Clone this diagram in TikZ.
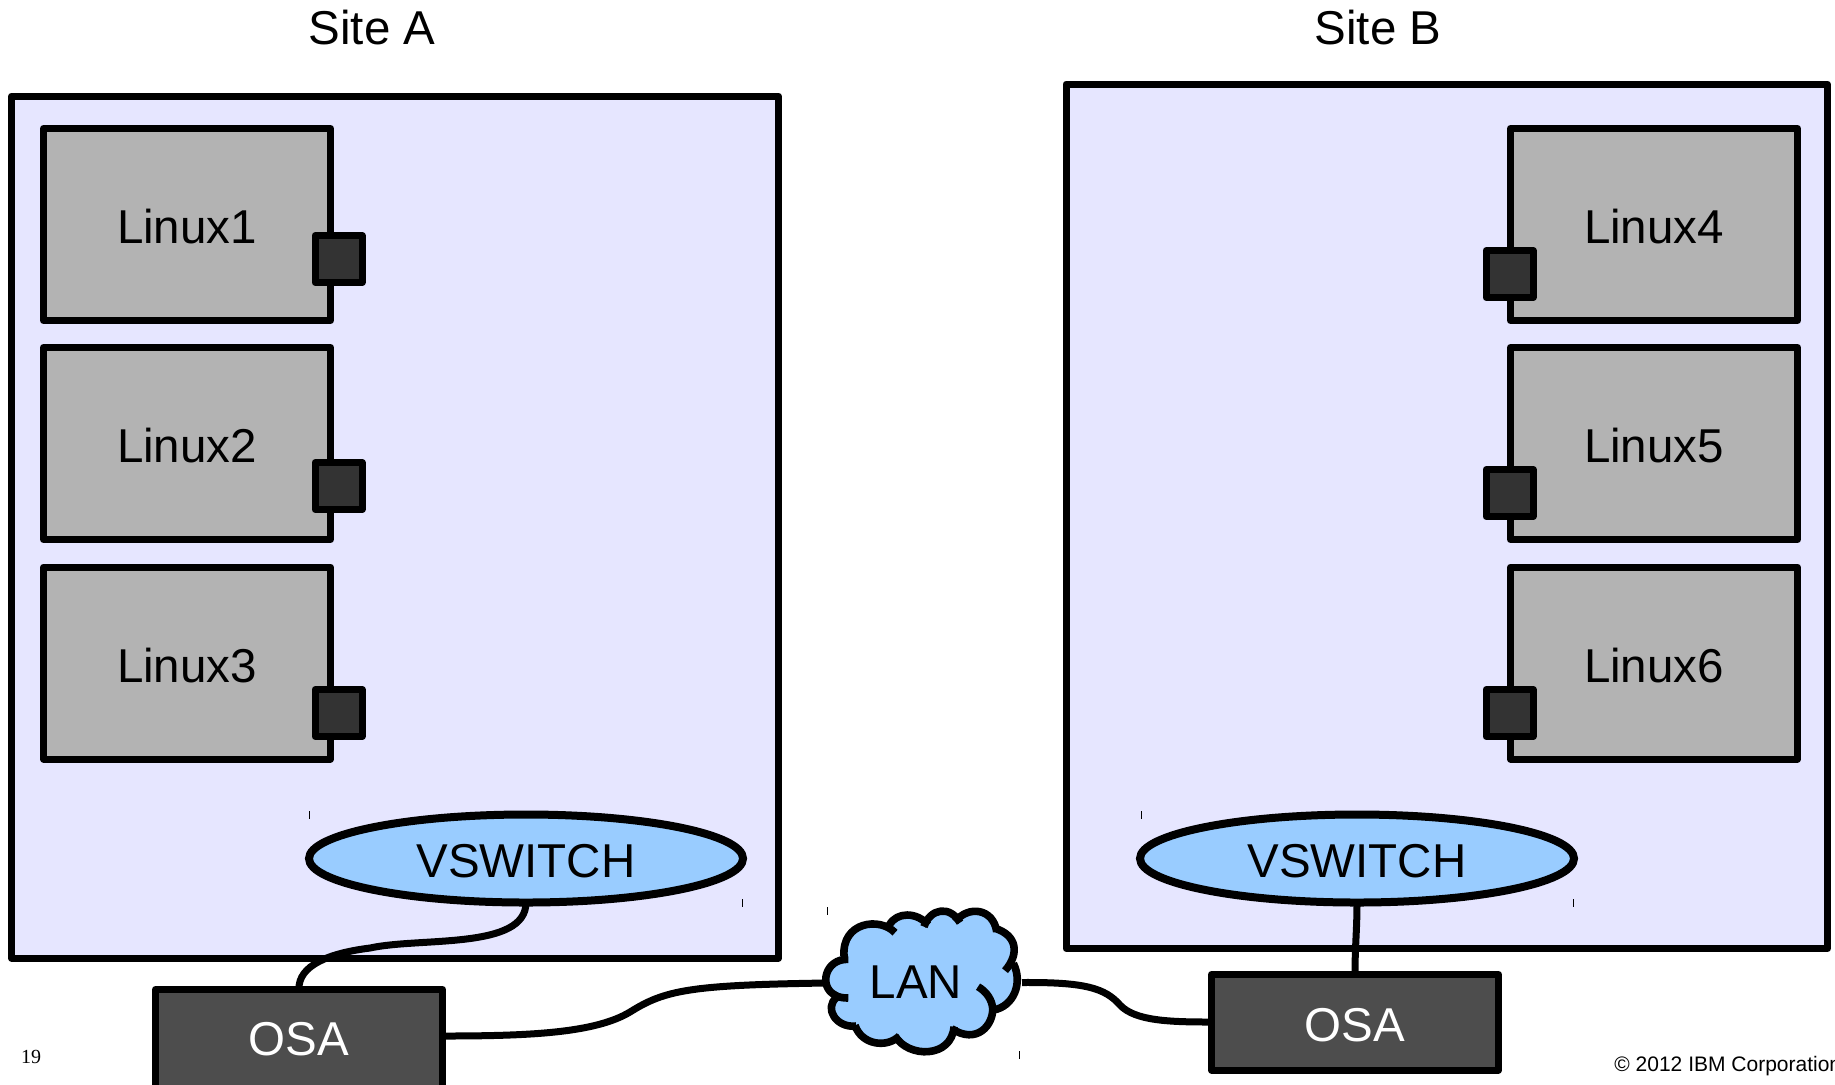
\documentclass[tikz,border=0pt]{standalone}
\usepackage{fontspec}
\setmainfont{Liberation Sans}
\newfontfamily\serifnum{Liberation Serif}
\usetikzlibrary{shapes.geometric}
\definecolor{panelfill}{HTML}{E6E6FF}
\definecolor{linuxfill}{HTML}{B3B3B3}
\definecolor{portfill}{HTML}{333333}
\definecolor{bluefill}{HTML}{99CCFF}
\definecolor{osafill}{HTML}{4D4D4D}
\newcommand{\bigfont}{\fontsize{23.75pt}{26pt}\selectfont}
\tikzset{
  heavy/.style={line width=3.5pt,line join=round},
  lowtext/.style={text height=19.3pt,text depth=0pt},
  panel/.style={heavy,draw=black,fill=panelfill,inner sep=0pt,outer sep=0pt},
  linuxbox/.style={heavy,draw=black,fill=linuxfill,minimum width=143.5pt,minimum height=96pt,inner sep=0pt,outer sep=0pt,font=\bigfont,lowtext},
  portbox/.style={line width=3.5pt,line join=round,draw=black,fill=portfill,minimum width=23.5pt,minimum height=23.5pt,inner sep=0pt,outer sep=0pt},
  vsw/.style={line width=4pt,draw=black,fill=bluefill,ellipse,minimum width=217pt,minimum height=44pt,inner sep=0pt,outer sep=0pt,font=\bigfont,lowtext},
  osabox/.style={heavy,draw=black,fill=osafill,text=white,minimum width=143.5pt,inner sep=0pt,outer sep=0pt,font=\bigfont},
  title/.style={font=\bigfont,inner sep=0pt},
  wire/.style={line width=3.5pt,line cap=butt},
  tick/.style={line width=0.5pt},
  cloudline/.style={line width=3.8pt,line cap=butt,line join=round},
}
\begin{document}
\begin{tikzpicture}[x=0.5pt,y=-0.5pt]
\useasboundingbox (0,0) rectangle (1835,1084);
\clip (0,0) rectangle (1835,1084);
\fill[white] (0,0) rectangle (1835,1084);

\node[title] (titleA) at (372,28) {Site A};
\node[title] (titleB) at (1378,28) {Site B};

\node[panel,minimum width=383.5pt,minimum height=431pt,anchor=north west] (siteA) at (11.5,96) {};
\node[panel,minimum width=380.75pt,minimum height=432.25pt,anchor=north west] (siteB) at (1066,84) {};

\node[linuxbox] (l1) at (187,224.5) {Linux1};
\node[linuxbox] (l2) at (187,443.5) {Linux2};
\node[linuxbox] (l3) at (187,663) {Linux3};
\node[linuxbox] (l4) at (1654,224.5) {Linux4};
\node[linuxbox] (l5) at (1654,443.5) {Linux5};
\node[linuxbox] (l6) at (1654,663) {Linux6};

\node[portbox] (p1) at (338.5,259) {};
\node[portbox] (p2) at (338.5,486) {};
\node[portbox] (p3) at (338.5,713) {};
\node[portbox] (p4) at (1509.5,274) {};
\node[portbox] (p5) at (1509.5,493) {};
\node[portbox] (p6) at (1509.5,713) {};

\node[vsw] (vA) at (526,858.5) {VSWITCH};
\node[vsw] (vB) at (1357,858.5) {VSWITCH};

\node[osabox,minimum height=97pt,anchor=north west] (osaA) at (155.5,989.5) {};
\node[text=white,font=\bigfont,inner sep=0pt] (osaAt) at (299,1039) {OSA};
\node[osabox,lowtext,minimum height=47.75pt,anchor=north west] (osaB) at (1211.5,974.5) {OSA};

% LAN cloud
\node[inner sep=0pt,minimum width=130pt,minimum height=60pt] (lan) at (916,982) {};
\coordinate (lanL) at (826,983);
\coordinate (lanR) at (1022,982.5);

% connectors
\draw[wire] (vA.south) .. controls (526,950) and (420,937) .. (370,948)
  .. controls (330,953) and (298,965) .. (osaA.north -| osaAt);
\draw[wire] (vB.south) .. controls (1357,930) and (1355,945) .. (osaB.north);
\draw[wire] (osaA.east |- osaAt) ++(0,-3) .. controls (530,1036) and (595,1033) .. (630,1012)
  .. controls (665,990) and (690,985) .. (lanL);
\draw[wire] (lanR) .. controls (1085,982) and (1105,988) .. (1120,1005)
  .. controls (1135,1021) and (1170,1022) .. (osaB.west |- 0,1022);

\begin{scope}[shift={(780,880)},x=0.16667pt,y=-0.16667pt]
\fill[bluefill] (345,155) .. controls (300,110) and (190,120) .. (192,225)
  .. controls (130,240) and (125,320) .. (165,350)
  .. controls (130,390) and (170,445) .. (225,440)
  .. controls (250,495) and (320,505) .. (350,475)
  .. controls (385,530) and (510,535) .. (520,445)
  .. controls (590,490) and (640,440) .. (640,390)
  .. controls (700,380) and (730,310) .. (695,245)
  .. controls (720,190) and (690,155) .. (650,148)
  .. controls (630,85) and (565,85) .. (532,118)
  .. controls (500,75) and (450,90) .. (436,125)
  .. controls (410,100) and (350,95) .. (332,135) -- cycle;
\draw[cloudline]
  (345,158) .. controls (300,110) and (185,125) .. (192,228);
\draw[cloudline]
  (205,238) .. controls (135,235) and (115,320) .. (165,345) .. controls (175,352) and (190,354) .. (205,354);
\draw[cloudline]
  (170,352) .. controls (130,385) and (170,445) .. (228,438);
\draw[cloudline]
  (225,436) .. controls (245,495) and (320,505) .. (358,468);
\draw[cloudline]
  (345,468) .. controls (385,535) and (515,535) .. (522,440);
\draw[cloudline]
  (515,446) .. controls (590,495) and (640,435) .. (638,385) .. controls (636,360) and (620,335) .. (594,320);
\draw[cloudline]
  (640,390) .. controls (700,380) and (730,310) .. (700,250);
\draw[cloudline]
  (675,272) .. controls (720,220) and (710,165) .. (645,145);
\draw[cloudline]
  (650,155) .. controls (640,85) and (565,75) .. (525,125);
\draw[cloudline]
  (540,128) .. controls (510,75) and (450,85) .. (432,140);
\draw[cloudline]
  (445,135) .. controls (410,95) and (350,95) .. (328,135);
\end{scope}
\node[inner sep=0pt,font=\bigfont] (lant) at (916,982) {LAN};

% small marks
\draw[tick] (309.5,811) -- (309.5,819);
\draw[tick] (742,899) -- (742,907);
\draw[tick] (1141,811) -- (1141,819);
\draw[tick] (1573.5,899) -- (1573.5,907);
\draw[tick] (827,907) -- (827,915);
\draw[tick] (1019,1051) -- (1019,1059);

\node[font=\serifnum\fontsize{10pt}{12pt}\selectfont,inner sep=0pt] (page) at (31,1057) {19};
\node[anchor=west,font=\fontsize{10.5pt}{12pt}\selectfont,inner sep=0pt] (copy) at (1614,1066) {© 2012 IBM Corporation};
\end{tikzpicture}
\end{document}
